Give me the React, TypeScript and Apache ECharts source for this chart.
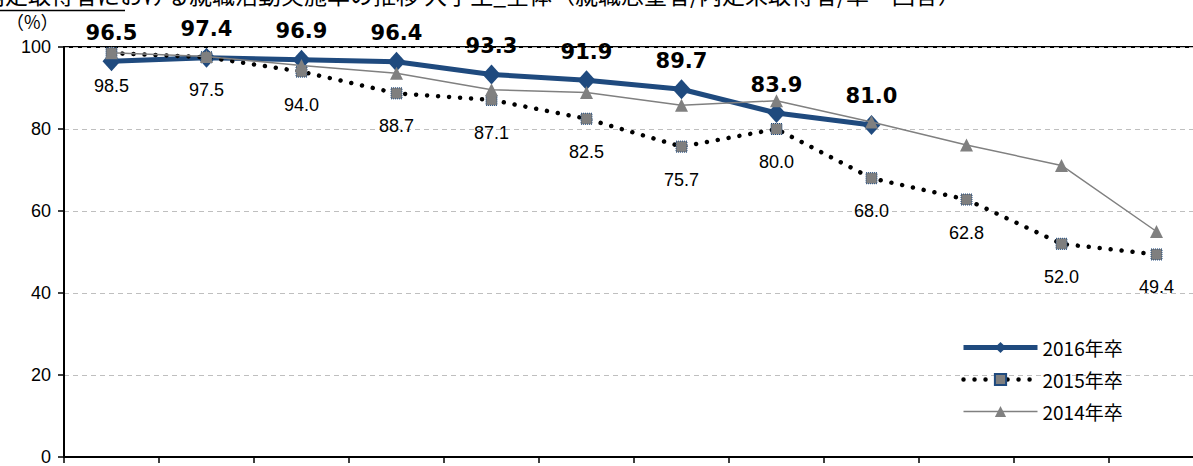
import React, { useEffect, useRef } from "react";
import * as echarts from "echarts";

const categories = ["1", "2", "3", "4", "5", "6", "7", "8", "9", "10", "11", "12"];
const s2016 = [96.5, 97.4, 96.9, 96.4, 93.3, 91.9, 89.7, 83.9, 81.0];
const s2015 = [98.5, 97.5, 94.0, 88.7, 87.1, 82.5, 75.7, 80.0, 68.0, 62.8, 52.0, 49.4];
const s2014 = [98.6, 97.7, 95.5, 93.6, 89.6, 88.9, 85.8, 86.9, 81.7, 76.1, 71.1, 55.0];
const seriesNames = ["2016年卒", "2015年卒", "2014年卒"];
const titleText = "内定取得者における就職活動実施率の推移 大学生_全体（就職志望者/内定未取得者/単一回答）";

export default function App() {
  const ref = useRef<HTMLDivElement>(null);
  useEffect(() => {
    if (!ref.current) return;
    const chart = echarts.init(ref.current, null, { renderer: "svg" });
    const blue = "#1F4A7E";
    chart.setOption({
      animation: false,
      backgroundColor: "#ffffff",
      grid: { left: 64, top: 47, width: 1140, height: 414, show: true, borderColor: "#000", borderWidth: 2 },
      xAxis: {
        type: "category",
        data: categories,
        boundaryGap: true,
        axisLine: { lineStyle: { color: "#000", width: 2 } },
        axisTick: { show: true, length: 6, lineStyle: { color: "#000", width: 1.5 } },
        axisLabel: { show: false },
        splitLine: { show: false },
      },
      yAxis: {
        type: "value",
        min: 0,
        max: 100,
        interval: 20,
        axisLine: { show: true, lineStyle: { color: "#000", width: 2 } },
        axisTick: { show: true, length: 6, lineStyle: { color: "#000", width: 1.5 } },
        axisLabel: { color: "#000", fontSize: 18, fontFamily: "Liberation Sans", margin: 13 },
        splitLine: { show: true, lineStyle: { color: "#bfbfbf", type: [5, 4], width: 1.2 } },
      },
      legend: {
        data: [
          { name: seriesNames[0], lineStyle: { width: 5 } },
          { name: seriesNames[1], lineStyle: { width: 4.5 } },
          { name: seriesNames[2], lineStyle: { width: 1.5 } },
        ],
        orient: "vertical",
        left: 956,
        top: 333,
        itemWidth: 74,
        itemHeight: 14,
        itemGap: 13,
        textStyle: { color: "#000", fontSize: 19, fontFamily: "Noto Sans CJK JP", padding: 0 },
      },
      graphic: [
        {
          type: "text",
          left: 6,
          top: 12,
          style: { text: "（%）", fill: "#000", font: '18px "Noto Sans CJK JP"' },
        },
        {
          type: "text",
          x: -18,
          y: -18,
          style: { text: titleText, fill: "#000", font: '23px "Noto Sans CJK JP"' },
        },
        {
          type: "line",
          shape: { x1: 0, y1: 10.5, x2: 125, y2: 10.5 },
          style: { stroke: "#000", lineWidth: 1.5 },
        },
      ],
      series: [
        {
          name: seriesNames[0],
          type: "line",
          data: s2016,
          symbol: "diamond",
          symbolSize: [18, 20],
          lineStyle: { color: blue, width: 5 },
          itemStyle: { color: blue },
          label: {
            show: true,
            position: "top",
            distance: 8,
            color: "#000",
            fontSize: 21,
            fontWeight: "bold",
            fontFamily: "DejaVu Sans",
            formatter: (p: any) => Number(p.value).toFixed(1),
          },
          z: 2,
        },
        {
          name: seriesNames[1],
          type: "line",
          data: s2015,
          symbol: "rect",
          symbolSize: 11,
          lineStyle: { color: "#000", width: 4.5, type: [0.01, 11], cap: "round" },
          itemStyle: { color: "#7f7f7f", borderColor: blue, borderWidth: 1, borderType: "dotted" },
          label: {
            show: true,
            position: "bottom",
            distance: 18,
            color: "#000",
            fontSize: 18,
            fontFamily: "Liberation Sans",
            formatter: (p: any) => Number(p.value).toFixed(1),
          },
          z: 3,
        },
        {
          name: seriesNames[2],
          type: "line",
          data: s2014,
          symbol: "triangle",
          symbolSize: 13,
          lineStyle: { color: "#808080", width: 1.5 },
          itemStyle: { color: "#808080" },
          label: { show: false },
          z: 4,
        },
      ],
    });
    return () => chart.dispose();
  }, []);
  return (
    <div style={{ position: "absolute", left: 0, top: 0, width: 1193, height: 466, overflow: "hidden" }}>
      <div ref={ref} style={{ position: "absolute", left: 0, top: 0, width: 1220, height: 466 }} />
    </div>
  );
}
